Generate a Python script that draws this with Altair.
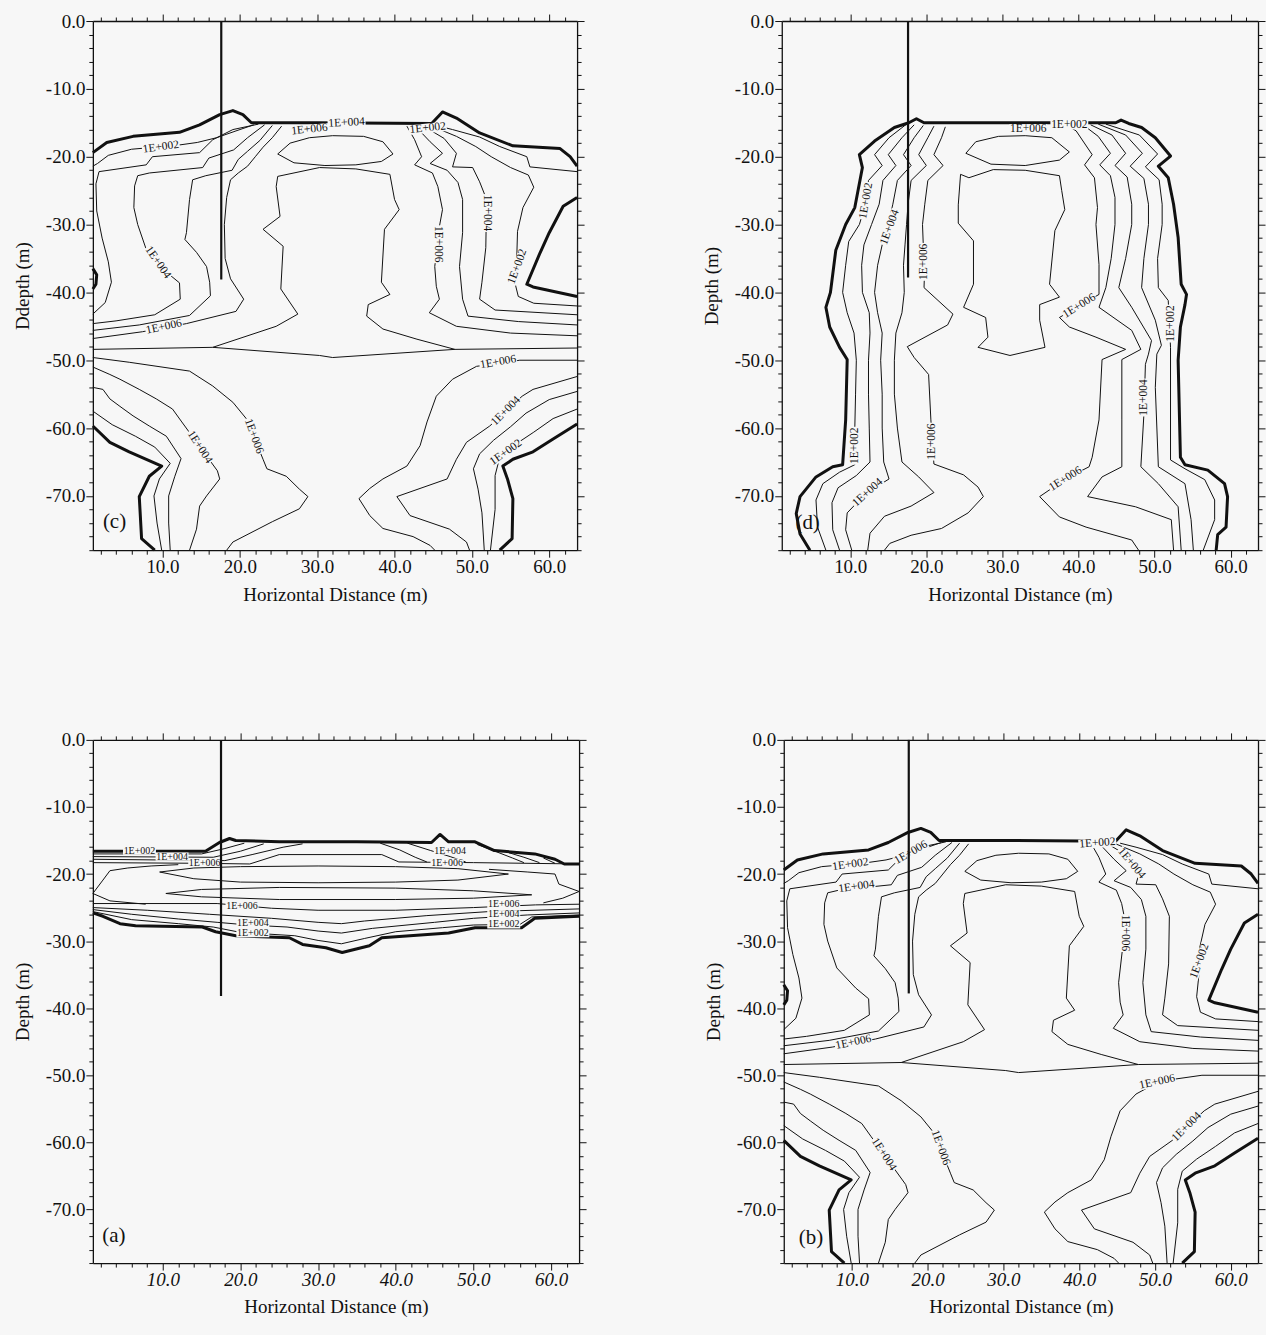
import altair as alt
import pandas as pd

# ------------------------------------------------------------------ style
BG = "#f7f7f7"
INK = "#111111"
SERIF = "Liberation Serif"
THIN, BOLD = 1.0, 3.0

X_DOMAIN = [1.0, 63.6]
Y_DOMAIN = [-78.0, 0.0]
X_MAJOR = [10, 20, 30, 40, 50, 60]
X_MINOR = [v for v in range(2, 64, 2) if v % 10]
Y_MAJOR = [0, -10, -20, -30, -40, -50, -60, -70]
Y_MINOR = [-v for v in range(2, 79, 2) if v % 10]

# blank-out plate drawn under each contour label (unit path, scaled by size)
PLATE = "M-1,-0.25L1,-0.25L1,0.25L-1,0.25Z"

# ------------------------------------------------------------------ panel (c) contours
C_BOUND_TOP = [(1.0, -19.4), (2.8, -17.9), (6.2, -17.0), (12.2, -16.4), (14.8, -15.3), (17.4, -13.8),
               (19.1, -13.2), (20.4, -13.8), (21.5, -15.0), (30.0, -15.0), (44.8, -15.1), (46.2, -13.4),
               (48.0, -14.3), (51.0, -16.5), (55.3, -18.4), (61.4, -18.8), (62.7, -20.0), (63.6, -21.4)]
C_BOUND_POCKET_L = [(1.0, -36.5), (1.5, -37.4), (1.4, -38.8), (1.0, -39.5)]
C_BOUND_POCKET_R = [(63.6, -26.0), (61.8, -27.3), (60.0, -31.2), (58.8, -34.2), (57.1, -38.8),
                    (57.9, -39.2), (63.6, -40.6)]
C_BOUND_LOW_L = [(1.0, -59.7), (3.2, -62.1), (5.7, -63.5), (9.9, -65.6), (8.3, -67.1), (7.0, -70.1),
                 (7.3, -76.3), (9.0, -78.0)]
C_BOUND_LOW_R = [(63.6, -59.4), (60.5, -61.6), (57.9, -63.5), (55.3, -64.6), (54.0, -65.6), (54.6, -67.5),
                 (55.3, -70.4), (55.2, -76.3), (53.6, -78.0)]

C_UL_A = [(21.8, -15.3), (19.5, -16.2), (17.0, -17.2), (14.5, -17.9), (12.0, -18.3), (6.0, -18.9),
          (3.0, -19.8), (1.6, -21.0), (1.0, -21.4)]
C_UL_B = [(22.4, -15.2), (19.1, -16.0), (16.5, -17.5), (14.8, -19.4), (8.7, -20.0), (7.9, -21.2),
          (1.8, -22.2), (1.4, -24.0), (1.5, -28.0), (2.2, -32.0), (3.0, -35.5), (3.4, -38.5),
          (2.6, -41.5), (1.0, -43.2)]
C_UL_C = [(23.2, -15.3), (21.0, -17.2), (19.2, -19.0), (16.0, -20.2), (15.2, -21.6), (8.3, -22.4),
          (6.8, -22.8), (6.4, -24.3), (6.3, -27.5), (6.8, -30.0), (8.0, -34.0), (10.5, -37.0),
          (12.2, -38.6), (12.3, -41.0), (9.0, -43.3), (4.0, -44.2), (1.0, -44.6)]
C_UL_D = [(24.2, -15.4), (22.6, -17.6), (21.0, -19.2), (19.8, -20.4), (19.0, -22.0), (15.6, -22.8),
          (13.9, -23.4), (13.5, -26.3), (13.1, -31.2), (12.9, -32.2), (14.4, -34.1), (15.7, -36.2),
          (16.1, -38.5), (16.2, -40.5), (13.5, -43.4), (7.0, -44.8), (1.0, -45.6)]
C_UL_E = [(25.4, -15.5), (24.2, -17.2), (23.0, -18.6), (22.0, -20.0), (21.0, -21.4), (19.8, -22.4),
          (18.8, -23.4), (18.3, -26.0), (18.0, -30.0), (18.1, -35.0), (18.8, -38.0), (20.5, -41.0),
          (19.5, -42.8), (13.1, -44.6), (7.4, -45.8), (1.0, -46.8)]

C_UR_TOP = [(45.4, -15.4), (47.5, -16.0), (51.0, -17.1), (53.6, -18.5), (57.1, -20.0), (57.5, -21.5),
            (63.6, -22.2)]
C_UR_D = [(44.6, -15.4), (48.0, -17.0), (50.5, -18.5), (52.5, -20.0), (55.0, -21.6), (57.3, -22.7),
          (58.0, -24.5), (56.6, -27.5), (55.9, -31.0), (55.8, -35.0), (55.5, -38.3), (56.0, -40.6),
          (58.0, -41.6), (63.6, -42.0)]
C_UR_C = [(43.6, -15.4), (46.4, -17.3), (48.0, -19.5), (47.5, -21.5), (50.1, -21.6), (51.0, -23.7),
          (51.9, -26.3), (51.8, -33.4), (51.3, -38.5), (51.0, -41.0), (53.0, -42.6), (63.6, -43.3)]
C_UR_B = [(42.6, -15.4), (44.6, -17.8), (46.2, -19.5), (44.6, -21.0), (46.8, -22.0), (48.2, -23.8),
          (48.8, -26.3), (48.8, -31.2), (48.4, -36.2), (48.8, -41.0), (49.5, -43.5), (56.0, -44.3),
          (63.6, -44.8)]
C_UR_A = [(41.6, -15.5), (42.6, -17.5), (43.5, -20.0), (42.6, -21.2), (44.9, -22.4), (45.6, -24.4),
          (46.2, -27.8), (45.8, -30.3), (45.2, -36.2), (45.4, -39.1), (45.8, -41.0), (44.5, -43.0),
          (48.0, -45.0), (55.0, -46.0), (63.6, -46.4)]

C_LENS = [(24.9, -19.6), (26.5, -18.0), (29.0, -17.2), (32.0, -16.9), (36.0, -17.0), (38.5, -17.8),
          (39.8, -19.6), (38.3, -20.7), (35.0, -21.2), (31.0, -21.3), (27.0, -20.9), (24.9, -19.6)]
C_CORE = [(1.0, -48.4), (16.5, -48.1), (24.7, -45.0), (27.5, -43.2), (25.3, -39.5), (25.6, -33.2),
          (23.0, -30.7), (25.2, -28.8), (24.7, -24.4), (24.9, -22.9), (30.3, -21.6), (35.0, -21.8),
          (39.4, -22.6), (40.0, -26.3), (40.6, -27.8), (38.7, -30.7), (38.3, -38.5), (39.4, -40.3),
          (36.6, -41.8), (36.4, -43.5), (38.5, -45.4), (42.9, -46.9), (47.8, -48.4), (63.6, -48.2)]
C_CORE_BASE = [(16.5, -48.1), (30.3, -49.3), (32.0, -49.6), (47.8, -48.4)]

C_LL_A = [(1.0, -49.6), (5.7, -50.3), (13.5, -51.6), (16.5, -53.8), (19.1, -56.2), (20.9, -58.7),
          (23.0, -64.6), (23.5, -66.0), (26.0, -67.1), (27.7, -69.0), (28.8, -70.1), (27.7, -71.9),
          (24.2, -73.8), (19.1, -76.8), (18.3, -78.0)]
C_LL_B = [(1.0, -51.0), (3.2, -52.1), (4.5, -52.8), (7.0, -54.3), (9.2, -55.7), (11.3, -57.2),
          (12.5, -59.1), (17.1, -66.3), (17.4, -67.5), (15.7, -70.0), (14.8, -71.5), (14.4, -74.9),
          (13.5, -78.0)]
C_LL_C = [(1.0, -54.0), (2.3, -54.3), (3.2, -55.7), (4.5, -56.8), (6.2, -58.2), (8.3, -59.7),
          (10.5, -61.2), (12.4, -64.5), (11.6, -67.1), (10.8, -70.0), (10.8, -74.0), (11.0, -78.0)]
C_LL_D = [(1.0, -57.5), (3.5, -59.5), (6.5, -61.2), (9.0, -62.8), (11.0, -65.2), (9.6, -67.5),
          (8.9, -70.0), (9.3, -74.0), (9.9, -78.0)]
C_LR_A = [(63.6, -50.0), (56.2, -50.0), (50.6, -50.9), (47.5, -52.8), (45.4, -55.3), (44.2, -59.1),
          (43.3, -62.6), (41.6, -65.6), (38.5, -67.5), (36.8, -68.9), (35.4, -70.4), (36.8, -72.9),
          (38.5, -74.8), (42.4, -76.0), (44.6, -77.3), (45.2, -78.0)]
C_LR_B = [(63.6, -52.4), (57.9, -54.3), (56.5, -55.3), (52.3, -59.7), (49.3, -62.1), (48.0, -64.6),
          (46.8, -67.5), (40.3, -70.1), (42.0, -72.9), (47.1, -74.9), (49.3, -76.8), (49.7, -78.0)]
C_LR_C = [(63.6, -54.6), (60.0, -55.8), (57.0, -57.8), (55.0, -59.8), (52.8, -61.8), (51.0, -63.8),
          (50.2, -66.0), (50.8, -69.0), (51.3, -72.5), (51.6, -78.0)]
C_LR_D = [(63.6, -57.2), (60.5, -58.6), (58.0, -60.6), (55.5, -62.5), (53.6, -64.3), (53.0, -67.0),
          (53.0, -72.0), (52.4, -78.0)]

C_LINES = {
    "bound_top": (C_BOUND_TOP, BOLD), "pocket_l": (C_BOUND_POCKET_L, BOLD),
    "pocket_r": (C_BOUND_POCKET_R, BOLD), "low_l": (C_BOUND_LOW_L, BOLD), "low_r": (C_BOUND_LOW_R, BOLD),
    "ul_a": (C_UL_A, THIN), "ul_b": (C_UL_B, THIN), "ul_c": (C_UL_C, THIN), "ul_d": (C_UL_D, THIN),
    "ul_e": (C_UL_E, THIN), "ur_top": (C_UR_TOP, THIN), "ur_d": (C_UR_D, THIN), "ur_c": (C_UR_C, THIN),
    "ur_b": (C_UR_B, THIN), "ur_a": (C_UR_A, THIN), "lens": (C_LENS, THIN), "core": (C_CORE, THIN),
    "core_base": (C_CORE_BASE, THIN), "ll_a": (C_LL_A, THIN), "ll_b": (C_LL_B, THIN),
    "ll_c": (C_LL_C, THIN), "ll_d": (C_LL_D, THIN), "lr_a": (C_LR_A, THIN), "lr_b": (C_LR_B, THIN),
    "lr_c": (C_LR_C, THIN), "lr_d": (C_LR_D, THIN),
}
C_LABELS = [("1E+002", 9.8, -18.6, -8), ("1E+004", 9.4, -35.6, 55), ("1E+006", 10.2, -45.1, -12),
            ("1E+004", 33.8, -15.0, -3), ("1E+006", 29.0, -16.0, -6), ("1E+002", 44.3, -15.8, -6),
            ("1E+006", 45.6, -32.9, 90), ("1E+004", 52.0, -28.3, 90), ("1E+002", 55.9, -36.2, -70),
            ("1E+006", 21.8, -61.2, 70), ("1E+004", 14.8, -62.8, 57), ("1E+006", 53.4, -50.3, -10),
            ("1E+004", 54.4, -57.5, -45), ("1E+002", 54.4, -63.6, -35)]

# ------------------------------------------------------------------ panel (d) contours
D_BOUND = [(4.7, -78.0), (3.4, -75.6), (2.9, -72.6), (3.4, -70.1), (5.5, -67.2), (7.7, -65.7), (9.0, -65.4),
           (9.4, -58.8), (9.6, -49.9), (8.6, -48.1), (7.3, -45.1), (6.8, -42.2), (7.4, -40.0), (8.1, -33.8),
           (9.4, -30.0), (10.6, -27.5), (11.6, -21.6), (11.2, -19.7), (13.2, -17.7), (15.8, -15.7),
           (17.7, -15.0), (18.7, -14.4), (19.7, -15.0), (30.0, -15.0), (44.9, -15.0), (45.6, -14.6),
           (46.6, -15.1), (48.3, -15.7), (50.1, -17.2), (52.1, -19.9), (50.5, -21.4), (51.8, -23.1),
           (52.5, -27.0), (53.1, -31.9), (53.5, -38.8), (54.2, -40.3), (54.0, -41.8), (53.4, -45.1),
           (53.1, -50.0), (53.4, -64.3), (54.0, -65.4), (57.0, -66.2), (59.2, -68.2), (59.6, -70.1),
           (59.4, -74.6), (58.3, -75.7), (58.1, -78.0)]
D_L1 = [(17.4, -15.2), (15.1, -17.2), (13.2, -19.7), (14.2, -21.3), (12.4, -23.5), (12.0, -27.0),
        (11.2, -30.0), (9.8, -32.5), (9.4, -36.0), (9.0, -40.0), (9.6, -43.0), (10.5, -46.0), (10.8, -50.0),
        (10.7, -55.0), (10.6, -60.0), (10.6, -65.4), (8.6, -66.5), (6.4, -68.2), (5.5, -70.6), (5.7, -74.6),
        (6.8, -78.0)]
D_L2 = [(18.4, -15.3), (16.8, -17.2), (15.0, -19.7), (16.0, -21.3), (14.3, -23.5), (13.8, -27.0),
        (12.8, -30.0), (11.8, -33.0), (11.5, -36.0), (11.6, -40.0), (12.5, -43.0), (12.6, -46.0),
        (12.4, -50.0), (12.4, -55.0), (12.5, -60.0), (12.6, -65.0), (10.8, -67.0), (8.4, -68.8),
        (7.6, -71.0), (7.7, -75.0), (8.6, -78.0)]
D_L3 = [(19.6, -15.4), (18.4, -17.2), (17.0, -19.7), (18.0, -21.3), (16.2, -23.5), (15.6, -27.0),
        (15.0, -30.0), (14.2, -33.0), (13.6, -36.0), (13.2, -40.0), (13.6, -43.0), (14.2, -46.0),
        (14.0, -50.0), (14.2, -55.0), (14.2, -60.0), (14.4, -65.0), (15.1, -67.5), (12.0, -69.7),
        (9.6, -72.5), (9.4, -75.0), (10.2, -78.0)]
D_L4 = [(21.0, -15.5), (20.2, -17.2), (19.0, -19.7), (20.0, -21.3), (18.0, -23.5), (17.6, -27.0),
        (17.4, -30.0), (17.2, -33.0), (17.0, -36.0), (17.1, -40.0), (16.8, -43.0), (16.0, -46.0),
        (15.8, -50.0), (15.8, -55.0), (16.2, -60.0), (16.8, -65.0), (19.0, -67.2), (21.0, -69.5),
        (18.0, -71.5), (14.5, -73.0), (12.6, -75.5), (12.3, -78.0)]
D_L5 = [(22.5, -15.6), (22.0, -17.2), (21.0, -19.7), (22.2, -21.3), (20.2, -23.5), (19.8, -27.0),
        (19.5, -30.0), (19.6, -33.0), (19.8, -36.0), (19.7, -39.3), (23.5, -43.2), (22.8, -44.8),
        (17.5, -48.0), (18.4, -49.6), (20.3, -52.1), (20.6, -58.8), (21.0, -65.3), (24.9, -66.9),
        (26.8, -68.7), (27.5, -70.1), (25.5, -72.5), (22.0, -74.8), (18.0, -75.8), (15.2, -77.0),
        (14.5, -78.0)]
D_R5 = [(38.4, -15.3), (39.7, -16.2), (41.8, -19.7), (40.8, -21.2), (42.1, -23.1), (42.5, -27.5),
        (42.3, -30.0), (42.7, -35.9), (42.7, -40.3), (37.5, -43.7), (38.8, -45.1), (42.3, -46.6),
        (46.2, -48.4), (43.1, -49.9), (42.7, -58.8), (41.8, -64.3), (41.4, -65.7), (38.3, -67.5),
        (34.9, -70.1), (37.5, -73.1), (41.0, -74.6), (47.0, -76.5), (47.9, -78.0)]
D_R4 = [(40.6, -15.3), (42.6, -17.0), (44.2, -19.5), (42.8, -21.2), (44.2, -22.8), (44.8, -26.0),
        (44.8, -30.0), (44.3, -35.0), (43.6, -39.3), (42.7, -42.2), (47.0, -45.6), (48.2, -48.4),
        (45.7, -49.9), (45.7, -58.8), (45.7, -65.7), (43.1, -67.2), (41.2, -70.1), (47.5, -71.6),
        (52.2, -73.5), (52.5, -78.0)]
D_R3 = [(41.6, -15.3), (44.4, -16.8), (46.2, -19.5), (44.8, -21.3), (46.4, -23.0), (47.0, -27.0),
        (47.0, -30.0), (46.2, -35.0), (45.3, -39.3), (47.0, -42.2), (49.6, -47.1), (49.2, -49.1),
        (48.8, -50.6), (48.6, -58.0), (48.2, -65.7), (50.5, -68.2), (53.1, -71.6), (53.5, -78.0)]
D_R2 = [(42.6, -15.2), (46.2, -16.8), (48.4, -19.5), (46.8, -21.4), (48.6, -23.2), (49.2, -27.0),
        (49.2, -30.0), (48.6, -35.0), (48.3, -39.3), (50.1, -44.1), (50.9, -47.8), (50.3, -49.1),
        (50.1, -54.0), (50.5, -65.7), (54.0, -68.2), (54.8, -73.5), (55.1, -78.0)]
D_R1 = [(43.6, -15.2), (48.0, -16.8), (50.4, -19.6), (48.8, -21.5), (50.6, -23.4), (51.0, -27.0),
        (51.0, -30.0), (50.4, -35.0), (50.5, -39.3), (51.8, -41.2), (52.1, -48.1), (52.1, -64.7),
        (54.0, -66.0), (56.6, -67.6), (57.9, -70.6), (57.9, -73.5), (56.4, -78.0)]
D_LENS = [(25.2, -19.5), (26.5, -17.8), (29.5, -17.0), (33.0, -16.9), (36.5, -17.2), (38.8, -19.3),
          (37.5, -20.5), (33.0, -21.3), (28.5, -21.1), (25.2, -19.5)]
D_CORE = [(25.6, -23.1), (28.8, -21.9), (33.0, -22.0), (37.5, -22.8), (37.8, -25.0), (38.2, -27.8),
          (36.9, -30.9), (36.2, -38.8), (37.5, -40.7), (34.9, -41.8), (34.9, -44.1), (35.6, -48.1),
          (31.0, -49.3), (26.8, -48.1), (28.1, -46.6), (27.8, -43.7), (24.9, -42.2), (26.2, -38.8),
          (26.2, -32.4), (24.2, -29.8), (24.2, -27.1), (24.5, -22.6), (25.6, -23.1)]

D_LINES = {
    "bound": (D_BOUND, BOLD), "l1": (D_L1, THIN), "l2": (D_L2, THIN), "l3": (D_L3, THIN),
    "l4": (D_L4, THIN), "l5": (D_L5, THIN), "r1": (D_R1, THIN), "r2": (D_R2, THIN), "r3": (D_R3, THIN),
    "r4": (D_R4, THIN), "r5": (D_R5, THIN), "lens": (D_LENS, THIN), "core": (D_CORE, THIN),
}
D_LABELS = [("1E+002", 12.1, -26.5, -80), ("1E+004", 15.2, -30.4, -70), ("1E+006", 19.7, -35.5, -90),
            ("1E+006", 33.4, -15.9, 0), ("1E+002", 38.8, -15.3, 0), ("1E+006", 40.1, -42.0, -32),
            ("1E+002", 52.1, -44.6, -90), ("1E+004", 48.6, -55.5, -90), ("1E+006", 38.3, -67.5, -32),
            ("1E+002", 10.6, -62.6, -90), ("1E+004", 12.3, -69.5, -42), ("1E+006", 20.8, -62.0, -90)]

# ------------------------------------------------------------------ panel (a) contours
A_BOUND_TOP = [(1.0, -16.6), (15.5, -16.6), (17.3, -15.3), (18.6, -14.7), (19.4, -15.0), (25.0, -15.2),
               (35.0, -15.2), (44.6, -15.3), (45.7, -14.1), (46.8, -15.2), (50.2, -15.2), (52.7, -16.5),
               (57.9, -17.0), (60.5, -17.8), (61.7, -18.5), (63.6, -18.5)]
A_BOUND_BOT = [(1.0, -25.8), (2.3, -26.3), (4.5, -27.4), (6.5, -27.7), (15.1, -27.9), (16.8, -28.6),
               (19.4, -29.2), (26.3, -29.5), (28.0, -30.5), (31.0, -31.0), (33.1, -31.7), (36.6, -30.7),
               (38.2, -29.5), (46.8, -28.8), (50.2, -28.0), (56.2, -28.0), (57.9, -26.6), (63.6, -26.3)]
A_UP_1 = [(1.0, -17.0), (15.0, -17.0), (18.0, -16.2), (20.5, -15.4)]
A_UP_2 = [(1.0, -17.4), (16.5, -17.5), (20.0, -16.6), (23.0, -15.5)]
A_UP_3 = [(1.0, -17.8), (18.0, -18.0), (21.5, -17.1), (25.5, -16.0), (28.0, -15.5)]
A_UP_6 = [(1.0, -18.3), (15.0, -18.4), (21.2, -18.5), (25.0, -17.1), (30.5, -17.1), (38.2, -17.1),
          (40.4, -18.2), (50.0, -18.3), (63.6, -18.5)]
A_UP_R1 = [(38.0, -15.4), (40.5, -16.4), (42.5, -17.5), (44.0, -18.2)]
A_UP_R2 = [(41.5, -15.4), (44.5, -16.5), (47.0, -17.4), (49.0, -18.2)]
A_UP_R3 = [(50.5, -15.6), (53.0, -16.7), (55.0, -17.6), (56.5, -18.3)]
A_UP_R4 = [(54.5, -16.8), (56.5, -17.5), (58.5, -18.3)]
A_UP_R5 = [(59.0, -17.6), (60.5, -18.4)]
A_WRAP_L = [(12.0, -18.6), (8.5, -18.8), (5.5, -19.1), (3.2, -19.5), (2.3, -20.9), (1.0, -22.9),
            (3.2, -24.0), (7.8, -24.5)]
A_WRAP_R = [(52.0, -19.3), (57.0, -19.7), (60.5, -20.0), (61.0, -21.5), (63.6, -22.6), (61.5, -23.6),
            (59.0, -24.3)]
A_LENS_1 = [(9.6, -19.7), (14.0, -19.1), (20.0, -18.9), (30.0, -18.8), (40.0, -18.9), (48.0, -19.2),
            (54.5, -20.0), (48.0, -20.9), (40.0, -21.2), (30.0, -21.3), (20.0, -21.2), (14.0, -20.7),
            (9.6, -19.7)]
A_LENS_2 = [(10.4, -22.9), (15.0, -22.3), (25.0, -22.0), (40.0, -22.1), (50.0, -22.5), (57.5, -23.1),
            (50.0, -23.6), (40.0, -23.8), (25.0, -23.8), (15.0, -23.4), (10.4, -22.9)]
A_LOW_6 = [(1.0, -24.4), (17.0, -24.4), (24.0, -25.1), (30.0, -25.4), (40.0, -25.4), (50.0, -25.0),
           (58.0, -24.6), (63.6, -24.5)]
A_LOW_5 = [(1.0, -25.0), (8.0, -25.4), (16.0, -26.0), (24.0, -26.6), (30.0, -27.2), (33.0, -27.4),
           (36.0, -27.0), (44.0, -26.2), (52.0, -25.6), (63.6, -25.2)]
A_LOW_4 = [(1.0, -25.3), (6.0, -26.0), (12.0, -26.7), (17.0, -27.2), (21.0, -27.6), (26.0, -27.9),
           (30.0, -28.5), (33.0, -28.8), (37.0, -28.1), (45.0, -27.2), (50.0, -26.6), (57.0, -26.1),
           (63.6, -25.8)]
A_LOW_2 = [(1.0, -25.6), (6.0, -26.8), (12.0, -27.4), (16.5, -27.9), (20.0, -28.7), (27.0, -29.2),
           (30.0, -29.9), (33.0, -30.4), (36.0, -29.6), (40.0, -28.6), (46.0, -28.0), (50.0, -27.6),
           (56.0, -27.5), (57.5, -26.4), (63.6, -26.1)]

A_LINES = {
    "bound_top": (A_BOUND_TOP, BOLD), "bound_bot": (A_BOUND_BOT, BOLD), "up1": (A_UP_1, THIN),
    "up2": (A_UP_2, THIN), "up3": (A_UP_3, THIN), "up6": (A_UP_6, THIN), "ur1": (A_UP_R1, THIN),
    "ur2": (A_UP_R2, THIN), "ur3": (A_UP_R3, THIN), "ur4": (A_UP_R4, THIN), "ur5": (A_UP_R5, THIN),
    "wrap_l": (A_WRAP_L, THIN), "wrap_r": (A_WRAP_R, THIN), "lens1": (A_LENS_1, THIN),
    "lens2": (A_LENS_2, THIN), "low6": (A_LOW_6, THIN), "low5": (A_LOW_5, THIN), "low4": (A_LOW_4, THIN),
    "low2": (A_LOW_2, THIN),
}
A_LABELS = [("1E+002", 7.0, -16.5, 0), ("1E+004", 11.2, -17.4, 0), ("1E+006", 15.4, -18.3, 0),
            ("1E+004", 47.0, -16.5, 0), ("1E+006", 46.6, -18.3, 0), ("1E+006", 20.2, -24.8, 0),
            ("1E+004", 21.6, -27.3, 0), ("1E+002", 21.6, -28.8, 0), ("1E+006", 53.9, -24.5, 0),
            ("1E+004", 53.9, -26.0, 0), ("1E+002", 53.9, -27.5, 0)]

# ------------------------------------------------------------------ panel (b): same field as (c)
B_LINES = C_LINES
B_LABELS = [("1E+002", 9.8, -18.6, -8), ("1E+004", 10.6, -21.9, -8), ("1E+006", 17.8, -16.8, -30),
            ("1E+006", 10.2, -45.1, -12), ("1E+002", 42.4, -15.4, -4), ("1E+004", 46.9, -18.4, 50),
            ("1E+006", 46.0, -28.8, 90), ("1E+002", 55.9, -33.0, -70), ("1E+006", 50.3, -51.0, -12),
            ("1E+004", 54.2, -57.7, -45), ("1E+006", 21.7, -60.8, 70), ("1E+004", 14.2, -61.8, 57)]

# well position (x, bottom depth) per panel
WELL_C = (17.6, -38.1)
WELL_D = (17.6, -37.8)
WELL_A = (17.5, -38.2)
WELL_B = (17.5, -37.8)


def line_frame(lines):
    rows = []
    for name, (pts, w) in lines.items():
        for i, (x, y) in enumerate(pts):
            rows.append({"line": name, "seq": i, "x": x, "y": y, "w": w})
    return pd.DataFrame(rows)


def label_frame(labels):
    return pd.DataFrame([{"text": t, "x": x, "y": y, "angle": a % 360} for t, x, y, a in labels])


def axis(**kw):
    base = dict(grid=False, domainColor=INK, domainWidth=1.3, tickColor=INK, tickWidth=1,
                labelColor=INK, labelFont=SERIF, labelFontSize=19, titleFont=SERIF,
                titleFontSize=19, titleFontWeight="normal", titleColor=INK)
    base.update(kw)
    return alt.Axis(**base)


def panel(lines, labels, well, letter, ytitle, italic, width, height, label_size):
    xs = alt.Scale(domain=X_DOMAIN, nice=False, zero=False)
    ys = alt.Scale(domain=Y_DOMAIN, nice=False, zero=False)

    x_main = axis(orient="bottom", values=X_MAJOR, format=".1f", tickSize=7, labelPadding=0,
                  labelFontStyle="italic" if italic else "normal", labelFlush=False,
                  title="Horizontal Distance (m)", titlePadding=9)
    y_main = axis(orient="left", values=Y_MAJOR, tickSize=7, labelPadding=1, labelFlush=False,
                  labelExpr="(datum.value < 0 ? '-' : '') + format(abs(datum.value), '.1f')",
                  title=ytitle, titlePadding=13)

    contours = alt.Chart(line_frame(lines)).mark_line(color=INK, strokeJoin="round").encode(
        x=alt.X("x:Q", scale=xs, axis=x_main),
        y=alt.Y("y:Q", scale=ys, axis=y_main),
        detail="line:N",
        order="seq:Q",
        strokeWidth=alt.StrokeWidth("w:Q", scale=None, legend=None),
    )

    lab = label_frame(labels)
    pos = dict(
        x=alt.X("x:Q", scale=xs, axis=None),
        y=alt.Y("y:Q", scale=ys, axis=None),
        angle=alt.Angle("angle:Q", scale=None),
    )
    half = label_size * 1.65
    plate = alt.Chart(lab).mark_point(shape=PLATE, filled=True, color=BG, opacity=1, strokeWidth=0,
                                      size=(2 * half) ** 2).encode(**pos)
    text = alt.Chart(lab).mark_text(font=SERIF, fontSize=label_size, color=INK).encode(
        text="text:N", **pos)

    well_df = pd.DataFrame({"x": [well[0]], "top": [0.0], "bottom": [well[1]]})
    well_rule = alt.Chart(well_df).mark_rule(color=INK, strokeWidth=2.2).encode(
        x=alt.X("x:Q", scale=xs, axis=None),
        y=alt.Y("top:Q", scale=ys, axis=None),
        y2="bottom:Q",
    )

    tag_df = pd.DataFrame({"text": [letter[0]], "x": [letter[1]], "y": [letter[2]]})
    tag = alt.Chart(tag_df).mark_text(font=SERIF, fontSize=21, color=INK).encode(
        x=alt.X("x:Q", scale=xs, axis=None),
        y=alt.Y("y:Q", scale=ys, axis=None),
        text="text:N",
    )

    anchor = pd.DataFrame({"x": [30.0], "y": [-40.0]})

    def frame_axes(xa, ya):
        return alt.Chart(anchor).mark_point(opacity=0).encode(
            x=alt.X("x:Q", scale=xs, axis=xa), y=alt.Y("y:Q", scale=ys, axis=ya))

    top_right = frame_axes(axis(orient="top", values=X_MAJOR, labels=False, tickSize=7, title=None),
                           axis(orient="right", values=Y_MAJOR, labels=False, tickSize=7, title=None))
    minor_1 = frame_axes(axis(orient="bottom", values=X_MINOR, labels=False, domain=False, tickSize=4,
                              title=None),
                         axis(orient="left", values=Y_MINOR, labels=False, domain=False, tickSize=4,
                              title=None))
    minor_2 = frame_axes(axis(orient="top", values=X_MINOR, labels=False, domain=False, tickSize=4,
                              title=None),
                         axis(orient="right", values=Y_MINOR, labels=False, domain=False, tickSize=4,
                              title=None))

    return alt.layer(contours, plate, text, well_rule, tag, top_right, minor_1, minor_2).resolve_axis(
        x="independent", y="independent").properties(width=width, height=height)


panel_c = panel(C_LINES, C_LABELS, WELL_C, ("(c)", 3.8, -73.8), "Ddepth (m)", False, 485, 530, 11.5)
panel_d = panel(D_LINES, D_LABELS, WELL_D, ("(d)", 4.4, -74.0), "Depth (m)", False, 477, 530, 11.5)
panel_a = panel(A_LINES, A_LABELS, WELL_A, ("(a)", 3.7, -73.9), "Depth (m)", True, 487, 524, 10)
panel_b = panel(B_LINES, B_LABELS, WELL_B, ("(b)", 4.6, -74.2), "Depth (m)", True, 475, 524, 11.5)

chart = alt.vconcat(
    alt.hconcat(panel_c, panel_d, spacing=117),
    alt.hconcat(panel_a, panel_b, spacing=117),
    spacing=127,
).properties(
    background=BG,
    padding={"left": 13, "top": 11, "right": 0, "bottom": 17},
).configure_view(strokeWidth=0)

chart.save("out.html", embed_options={"renderer": "svg", "actions": False})
